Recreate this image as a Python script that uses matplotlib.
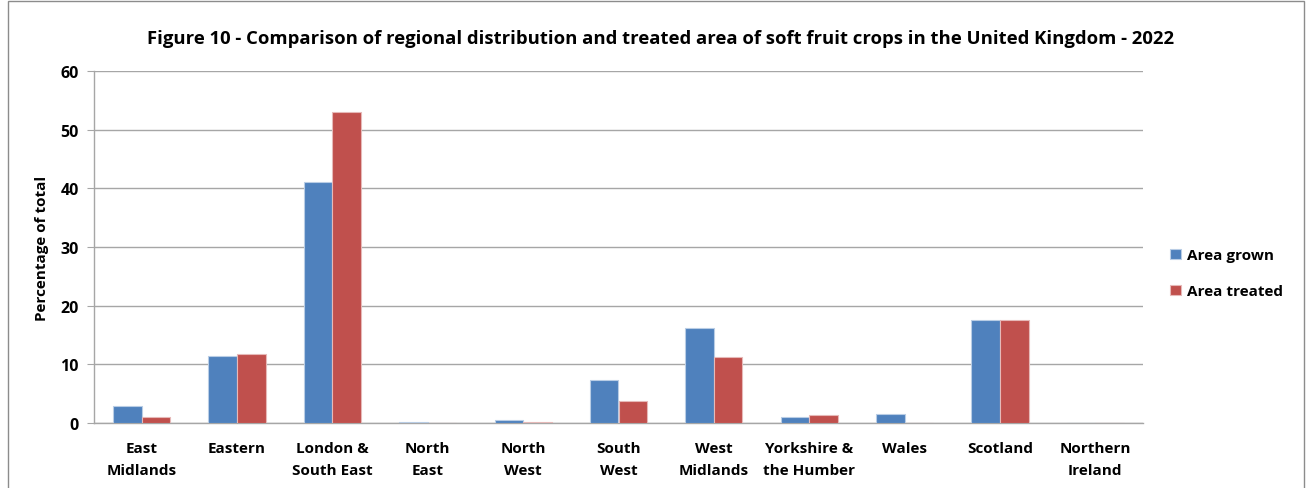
import matplotlib
matplotlib.use("Agg")
import matplotlib.pyplot as plt
from matplotlib.patches import Rectangle
import numpy as np

regions = ["East\nMidlands", "Eastern", "London &\nSouth East", "North\nEast", "North\nWest",
           "South\nWest", "West\nMidlands", "Yorkshire &\nthe Humber", "Wales", "Scotland",
           "Northern\nIreland"]
area_grown = [2.9, 11.4, 41.0, 0.1, 0.5, 7.3, 16.2, 1.0, 1.5, 17.6, 0.0]
area_treated = [1.0, 11.8, 53.0, 0.0, 0.1, 3.7, 11.2, 1.4, 0.0, 17.6, 0.0]
series_names = ["Area grown", "Area treated"]
y_ticks = [0, 10, 20, 30, 40, 50, 60]

plt.rcParams['font.family'] = ['Open Sans', 'DejaVu Sans']

fig = plt.figure(figsize=(13.09, 4.89), dpi=100)
ax = fig.add_axes([94/1309, 1 - 424/489, (1143 - 94)/1309, (424 - 72)/489])

x = np.arange(len(regions))
w = 0.3
grid_c = "#A6A6A6"
ax.bar(x - w/2, area_grown, width=w, color="#4F81BD", edgecolor="#B9CDE5", linewidth=0.8,
       label=series_names[0], zorder=3)
ax.bar(x + w/2, area_treated, width=w, color="#C0504D", edgecolor="#E6B9B8", linewidth=0.8,
       label=series_names[1], zorder=3)

ax.set_xlim(-0.5, len(regions) - 0.5)
ax.set_ylim(0, 60)
ax.set_yticks(y_ticks)
ax.yaxis.grid(True, color=grid_c, linewidth=1.0, zorder=0)
ax.set_axisbelow(True)
for s in ["top", "right"]:
    ax.spines[s].set_visible(False)
for s in ["left", "bottom"]:
    ax.spines[s].set_color(grid_c)
    ax.spines[s].set_linewidth(1.0)

ax.set_xticks(x)
ax.set_xticklabels(regions, fontsize=11, fontweight="bold", linespacing=1.75)
ax.tick_params(axis="x", length=0, pad=13)
ax.tick_params(axis="y", length=5, color=grid_c, labelsize=11.5, pad=6)
for t in ax.get_yticklabels():
    t.set_fontweight("bold")

ax.set_ylabel("Percentage of total", fontsize=11, fontweight="bold", labelpad=8)

fig.text(0.505, 1 - 39/489, "Figure 10 - Comparison of regional distribution and treated area of soft fruit crops in the United Kingdom - 2022",
         ha="center", va="center", fontsize=13.3, fontweight="bold")

ax.legend(loc="center left", bbox_to_anchor=(1.013, 0.425), frameon=False,
          prop={"weight": "bold", "size": 11},
          handlelength=0.7, handleheight=0.7, handletextpad=0.4, labelspacing=1.45)

fig.patches.append(Rectangle((8/1309, -0.1), (1304 - 8)/1309, 1.1 - 2/489,
                             transform=fig.transFigure, fill=False,
                             edgecolor="#8C8C8C", linewidth=1.0))

fig.savefig("out.png", dpi=100)
